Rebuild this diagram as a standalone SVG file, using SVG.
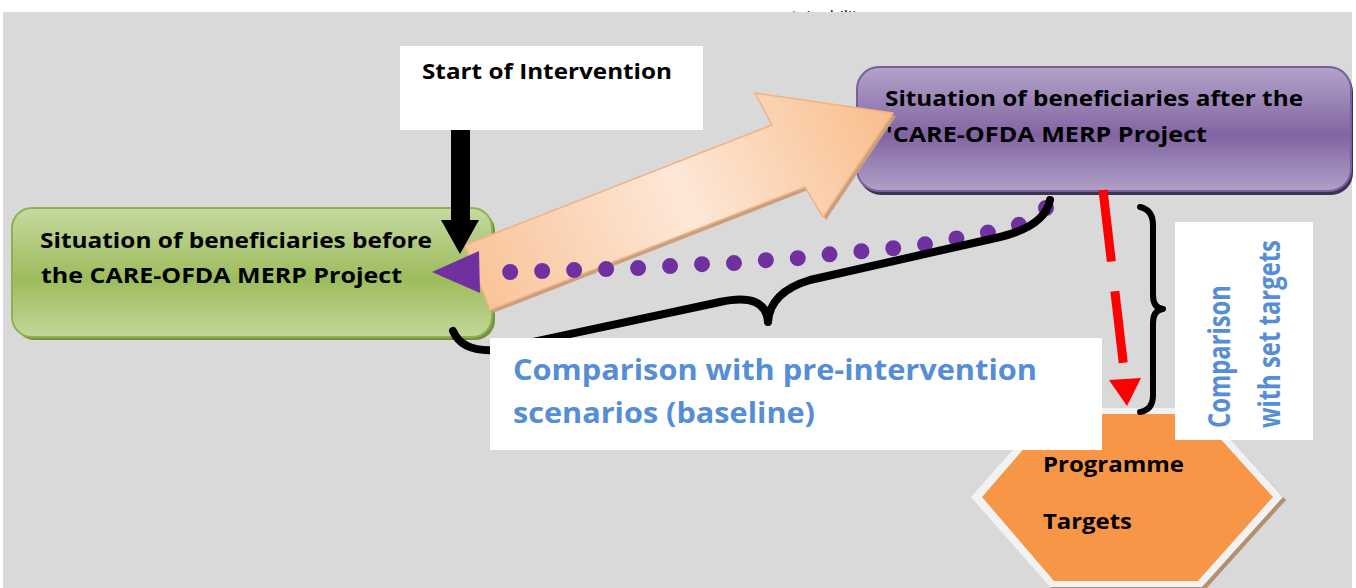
<svg xmlns="http://www.w3.org/2000/svg" width="1356" height="588" viewBox="0 0 1356 588">
  <defs>
    <style>
      .lbl { font-family: "Open Sans", "Liberation Sans", sans-serif; font-weight: 700; font-size: 22px; fill: #000; }
      .blue { font-family: "Open Sans", "Liberation Sans", sans-serif; font-weight: 700; font-size: 29px; fill: #558ed5; }
      .vert { font-family: "Open Sans", "Liberation Sans", sans-serif; font-weight: 700; font-size: 26px; fill: #558ed5; }
      .panel { fill: #ffffff; }
    </style>
    <linearGradient id="gGreen" x1="0" y1="0" x2="0" y2="1">
      <stop offset="0" stop-color="#c5d9a0"/>
      <stop offset="0.55" stop-color="#9dbc5c"/>
      <stop offset="1" stop-color="#c2d79a"/>
    </linearGradient>
    <linearGradient id="gPurple" x1="0" y1="0" x2="0" y2="1">
      <stop offset="0" stop-color="#b4a3c9"/>
      <stop offset="0.55" stop-color="#8165a3"/>
      <stop offset="1" stop-color="#b1a0c6"/>
    </linearGradient>
    <linearGradient id="gPeach" gradientUnits="userSpaceOnUse" x1="893" y1="113" x2="480" y2="300">
      <stop offset="0" stop-color="#f9bd8b"/>
      <stop offset="0.5" stop-color="#fde8d8"/>
      <stop offset="1" stop-color="#f9c398"/>
    </linearGradient>
    <clipPath id="topClip">
      <rect x="700" y="6" width="220" height="6"/>
    </clipPath>
  </defs>

  <!-- page background -->
  <rect x="3" y="12" width="1349" height="576" fill="#d9d9d9"/>
  <g clip-path="url(#topClip)">
    <text x="766" y="21" font-family="'Open Sans', 'Liberation Sans', sans-serif" font-size="15" textLength="100" lengthAdjust="spacingAndGlyphs" fill="#000">sustainability</text>
  </g>

  <!-- before state -->
  <g id="node-before">
    <rect x="15" y="211" width="480" height="129" rx="20" fill="#76923c"/>
    <rect x="12" y="208" width="480" height="129" rx="20" fill="url(#gGreen)" stroke="#8db14e" stroke-width="2"/>
    <text class="lbl" x="40" y="248" textLength="392" lengthAdjust="spacingAndGlyphs">Situation of beneficiaries before</text>
    <text class="lbl" x="41" y="283" textLength="361" lengthAdjust="spacingAndGlyphs">the CARE-OFDA MERP Project</text>
  </g>

  <!-- after state -->
  <g id="node-after">
    <rect x="859" y="70" width="494" height="125" rx="22" fill="#3f3151"/>
    <rect x="857" y="67" width="494" height="124" rx="22" fill="url(#gPurple)" stroke="#7a5f9b" stroke-width="2"/>
    <text class="lbl" x="885" y="106" textLength="418" lengthAdjust="spacingAndGlyphs">Situation of beneficiaries after the</text>
    <text class="lbl" x="886" y="142" textLength="321" lengthAdjust="spacingAndGlyphs">'CARE-OFDA MERP Project</text>
  </g>

  <!-- programme targets -->
  <g id="node-targets">
    <polygon points="975,500 1053,412 1205,412 1286,500 1205,590 1053,590" fill="#b3906f"/>
    <polygon points="971,497 1050,408 1202,408 1283,497 1202,587 1050,587" fill="#f2f2f2"/>
    <polygon points="982,497 1054,414 1198,414 1273,497 1198,581 1054,581" fill="#f79646"/>
    <text class="lbl" x="1043" y="472" textLength="141" lengthAdjust="spacingAndGlyphs">Programme</text>
    <text class="lbl" x="1043" y="529" textLength="89" lengthAdjust="spacingAndGlyphs">Targets</text>
  </g>

  <!-- connectors -->
  <g id="connectors">
    <!-- progress arrow: before to after -->
    <polygon points="468,248 775,128 758,96 896,116 826,220 808,190 493,313" fill="#c9a07f"/>
    <polygon points="465,245 772,125 755,93 893,113 823,217 805,187 490,310" fill="url(#gPeach)" stroke="#f4b183" stroke-width="1.5" stroke-linejoin="round"/>
    <!-- start of intervention marker -->
    <rect x="451" y="130" width="19" height="92" fill="#000"/>
    <polygon points="441,220 479,220 460,254" fill="#000"/>
    <!-- dotted return arrow -->
    <path d="M1046,208 L1022,224 L991,232 L959,238 L928,244 L896,248 L864,251 L832,254 L800,258 L768,260 L736,263 L704,264 L672,266 L640,268 L608,269 L576,270 L543,271 L512,272 L488,272" fill="none" stroke="#7030a0" stroke-width="16" stroke-linecap="round" stroke-dasharray="0 32"/>
    <polygon points="432,272 479,251 480,293" fill="#7030a0"/>
    <!-- baseline comparison brace -->
    <path d="M453,331 Q462,352 495,350 L720,302 Q766,292 768,322 Q770,292 810,280 L1000,237 Q1045,226 1050,200" fill="none" stroke="#000" stroke-width="8" stroke-linecap="round" stroke-linejoin="round"/>
    <!-- target comparison brace -->
    <path d="M1140,207 Q1153,210 1153,225 L1153,295 Q1153,308 1163,309 Q1153,310 1153,323 L1153,395 Q1153,410 1140,412" fill="none" stroke="#000" stroke-width="6" stroke-linecap="round" stroke-linejoin="round"/>
    <!-- dashed arrow to targets -->
    <line x1="1103" y1="190" x2="1125" y2="378" stroke="#ff0000" stroke-width="9" stroke-dasharray="72 30"/>
    <polygon points="1109,380 1141,378 1127,406" fill="#ff0000"/>
  </g>

  <!-- labels -->
  <g id="label-start">
    <rect class="panel" x="400" y="46" width="303" height="84"/>
    <text class="lbl" x="422" y="79" textLength="250" lengthAdjust="spacingAndGlyphs">Start of Intervention</text>
  </g>
  <g id="label-baseline">
    <rect class="panel" x="490" y="338" width="612" height="112"/>
    <text class="blue" x="513" y="380" textLength="524" lengthAdjust="spacingAndGlyphs">Comparison with pre-intervention</text>
    <text class="blue" x="513" y="423" textLength="302" lengthAdjust="spacingAndGlyphs">scenarios (baseline)</text>
  </g>
  <g id="label-targets">
    <rect class="panel" x="1175" y="222" width="138" height="218"/>
    <text class="vert" transform="translate(1230 428) scale(1.18 1) rotate(-90)" textLength="143" lengthAdjust="spacingAndGlyphs">Comparison</text>
    <text class="vert" transform="translate(1280 428) scale(1.18 1) rotate(-90)" textLength="188" lengthAdjust="spacingAndGlyphs">with set targets</text>
  </g>
</svg>
